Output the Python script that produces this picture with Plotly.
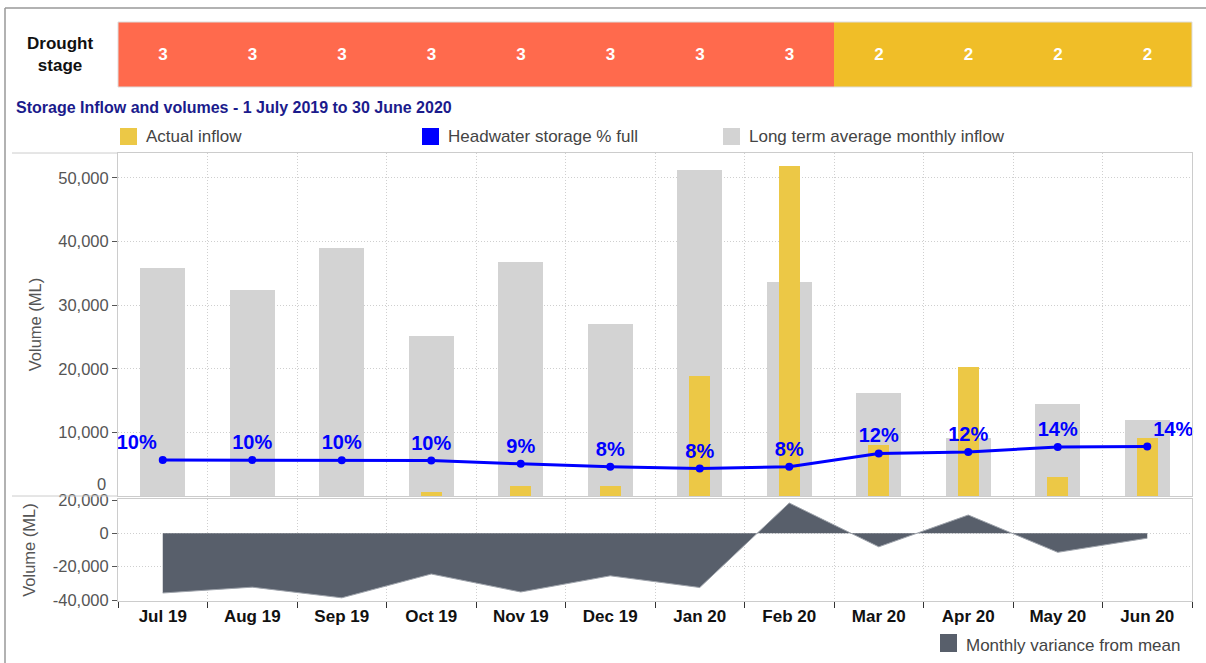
import plotly.graph_objects as go

# ---------------- data ----------------
months = ["Jul 19", "Aug 19", "Sep 19", "Oct 19", "Nov 19", "Dec 19",
          "Jan 20", "Feb 20", "Mar 20", "Apr 20", "May 20", "Jun 20"]
drought_stage = [3, 3, 3, 3, 3, 3, 3, 3, 2, 2, 2, 2]
long_term_avg = [35800, 32300, 38900, 25200, 36800, 27000,
                 51300, 33600, 16150, 9100, 14450, 11950]
actual_inflow = [0, 0, 0, 700, 1500, 1500,
                 18800, 51800, 8000, 20200, 3000, 9050]
storage_pct = [10.0, 10.0, 9.9, 9.8, 8.9, 8.1,
               7.6, 8.1, 11.8, 12.2, 13.6, 13.7]
variance = [-35800, -32300, -38700, -24400, -35200, -25500,
            -32500, 18200, -8100, 11000, -11400, -2900]
main_ticks = [10000, 20000, 30000, 40000, 50000]
lower_ticks = [-40000, -20000, 0, 20000]

# ---------------- style ----------------
FONT = "Liberation Sans, Arial, sans-serif"
GREY = "#d3d3d3"
YELLOW = "#ecc846"
BLUE = "#0000ff"
DARK = "#585f6b"
STAGE_COL = {3: "#ff6a4d", 2: "#f0be28"}
GRID = "#cfcfcf"
FRAME = "#cccccc"

W, H = 1206, 663
ML, MR, MT, MB = 118, 14, 22, 62
PW, PH = W - ML - MR, H - MT - MB


def px(x):
    """page x -> paper fraction"""
    return (x - ML) / PW


def py(y):
    """page y -> paper fraction"""
    return (H - MB - y) / PH


fig = go.Figure()

# drought stage strip
fig.add_trace(go.Bar(
    x=months, y=[1] * len(months), width=1,
    marker=dict(color=[STAGE_COL[s] for s in drought_stage], line=dict(width=0)),
    text=[str(s) for s in drought_stage], textposition="inside",
    insidetextanchor="middle",
    textfont=dict(color="white", size=17, family=FONT, weight="bold"),
    xaxis="x3", yaxis="y3", showlegend=False, hoverinfo="skip"))

# long-term average
fig.add_trace(go.Bar(x=months, y=long_term_avg, width=0.5,
                     marker=dict(color=GREY, line=dict(width=0)),
                     name="Long term average monthly inflow", showlegend=False))
# actual inflow
fig.add_trace(go.Bar(x=months, y=actual_inflow, width=0.235,
                     marker=dict(color=YELLOW, line=dict(width=0)),
                     name="Actual inflow", showlegend=False))

# storage % line
tpos = ["top center"] * len(months)
tpos[0] = "top left"
tpos[-1] = "top right"
fig.add_trace(go.Scatter(
    x=months, y=storage_pct, yaxis="y4", mode="lines+markers+text",
    line=dict(color=BLUE, width=3), marker=dict(color=BLUE, size=8),
    text=[f"{round(v)}%" for v in storage_pct], textposition=tpos,
    textfont=dict(color=BLUE, size=20, family=FONT, weight="bold"),
    cliponaxis=False, name="Headwater storage % full", showlegend=False))

# monthly variance area
fig.add_trace(go.Scatter(
    x=months, y=variance, xaxis="x2", yaxis="y2", mode="lines",
    fill="tozeroy", fillcolor=DARK, line=dict(color="#9ea3ab", width=1),
    name="Monthly variance from mean", showlegend=False))

dom_main = [py(496), py(153)]
dom_low = [0, py(499)]
dom_top = [py(87), 1]

axis_common = dict(showline=True, linecolor=FRAME, mirror=True,
                   gridcolor=GRID, griddash="1px,2px", zeroline=False)

fig.update_layout(
    width=W, height=H,
    margin=dict(l=ML, r=MR, t=MT, b=MB),
    paper_bgcolor="white", plot_bgcolor="white",
    barmode="overlay", bargap=0,
    font=dict(family=FONT, color="#444"),
    xaxis=dict(domain=[0, 1], anchor="y", type="category",
               range=[-0.5, len(months) - 0.5], tickson="boundaries",
               showticklabels=False, ticks="", showgrid=True, **axis_common),
    yaxis=dict(domain=dom_main, anchor="x", range=[0, 53900],
               tickvals=main_ticks, ticktext=[f"{v:,}" for v in main_ticks],
               ticks="outside", ticklen=5, tickcolor="#555",
               tickfont=dict(size=16.5, color="#555"),
               title=dict(text="Volume (ML)", font=dict(size=16.5, color="#555"), standoff=12),
               showgrid=True, **axis_common),
    yaxis4=dict(overlaying="y", range=[0, 95], visible=False),
    xaxis2=dict(domain=[0, 1], anchor="y2", type="category",
                range=[-0.5, len(months) - 0.5], tickson="boundaries",
                ticks="outside", ticklen=6, tickcolor="#333",
                tickfont=dict(size=17, color="#111", weight="bold"),
                showgrid=True, **axis_common),
    yaxis2=dict(domain=dom_low, anchor="x2", range=[-40600, 20600],
                tickvals=lower_ticks, ticktext=[f"{v:,}" for v in lower_ticks],
                ticks="outside", ticklen=5, tickcolor="#555",
                tickfont=dict(size=16.5, color="#555"),
                title=dict(text="Volume (ML)", font=dict(size=16.5, color="#555"), standoff=12),
                showgrid=True, **axis_common),
    xaxis3=dict(domain=[0, 1], anchor="y3", type="category",
                range=[-0.5, len(months) - 0.5], visible=False),
    yaxis3=dict(domain=dom_top, anchor="x3", range=[0, 1], visible=False),
)

shapes = []
# outer frame
shapes.append(dict(type="line", xref="paper", yref="paper", x0=px(5), x1=px(1206),
                   y0=py(8), y1=py(8), line=dict(color="#999", width=1.5)))
shapes.append(dict(type="line", xref="paper", yref="paper", x0=px(5), x1=px(5),
                   y0=py(8), y1=py(663), line=dict(color="#999", width=1.5)))
# separators extending left
for yy in (153, 496):
    shapes.append(dict(type="line", xref="paper", yref="paper", x0=px(12), x1=px(118),
                       y0=py(yy), y1=py(yy), line=dict(color=FRAME, width=1)))
# drought strip border
shapes.append(dict(type="rect", xref="paper", yref="paper", x0=0, x1=1,
                   y0=dom_top[0], y1=1, line=dict(color="#dddddd", width=1)))

# legend squares
leg = [(120, YELLOW, "Actual inflow"),
       (422, BLUE, "Headwater storage % full"),
       (723, GREY, "Long term average monthly inflow")]
annotations = []
for x0, col, txt in leg:
    shapes.append(dict(type="rect", xref="paper", yref="paper",
                       x0=px(x0), x1=px(x0 + 17), y0=py(145), y1=py(128),
                       fillcolor=col, line=dict(width=0)))
    annotations.append(dict(xref="paper", yref="paper", x=px(x0 + 24), y=py(136.5),
                            text=txt, showarrow=False, xanchor="left", yanchor="middle",
                            font=dict(size=17, color="#444")))
shapes.append(dict(type="rect", xref="paper", yref="paper",
                   x0=px(940), x1=px(957), y0=py(652), y1=py(634),
                   fillcolor=DARK, line=dict(width=0)))
annotations.append(dict(xref="paper", yref="paper", x=px(964), y=py(645.5),
                        text="Monthly variance from mean", showarrow=False,
                        xanchor="left", yanchor="middle", font=dict(size=17, color="#444")))

# titles
annotations.append(dict(xref="paper", yref="paper", x=px(14), y=py(107),
                        text="<b>Storage Inflow and volumes - 1 July 2019 to 30 June 2020</b>",
                        showarrow=False, xanchor="left", yanchor="middle",
                        font=dict(size=16, color="#1b1b8c")))
annotations.append(dict(xref="paper", yref="paper", x=px(60), y=py(54.5),
                        text="<b>Drought<br>stage</b>", showarrow=False,
                        xanchor="center", yanchor="middle",
                        font=dict(size=17, color="#111")))
# main axis zero label (drawn raised, as in the original)
annotations.append(dict(xref="paper", yref="y", x=0, y=0, xshift=-10, yshift=12,
                        text="0", showarrow=False, xanchor="right", yanchor="middle",
                        font=dict(size=16.5, color="#555")))

fig.update_layout(shapes=shapes, annotations=annotations)
fig.write_html(
    "out.html",
    config={"displayModeBar": False},
    post_script="document.body.style.margin='0';document.body.style.overflow='hidden';",
)
